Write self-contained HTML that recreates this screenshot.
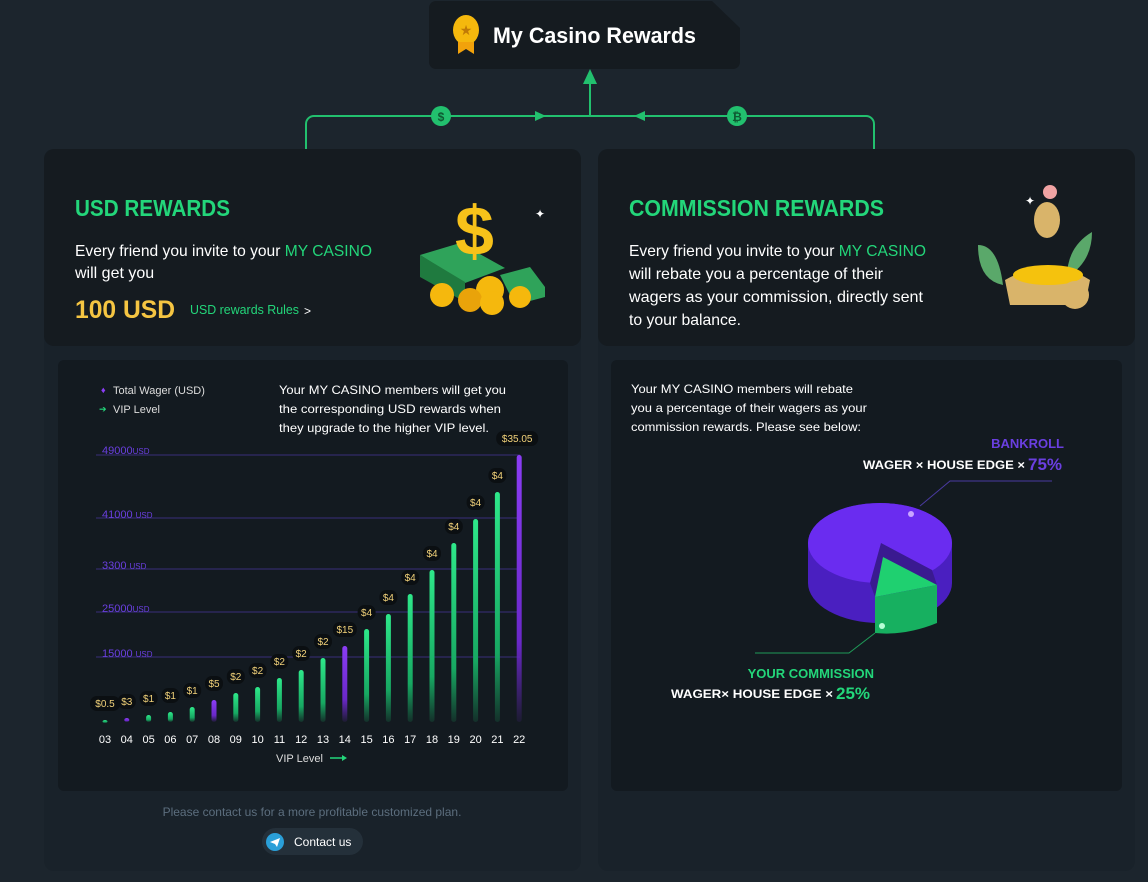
<!DOCTYPE html>
<html><head><meta charset="utf-8"><style>
html,body{margin:0;padding:0;background:#1c252d;}
svg{display:block;font-family:"Liberation Sans",sans-serif;}
</style></head><body>
<svg width="1148" height="882" viewBox="0 0 1148 882" xmlns="http://www.w3.org/2000/svg">
<defs>
<linearGradient id="g" x1="0" y1="0" x2="0" y2="1"><stop offset="0" stop-color="#2ee88a"/><stop offset="0.7" stop-color="#17a862"/><stop offset="1" stop-color="#17a862" stop-opacity="0.15"/></linearGradient>
<linearGradient id="p" x1="0" y1="0" x2="0" y2="1"><stop offset="0" stop-color="#8b3df5"/><stop offset="0.7" stop-color="#6a28c8"/><stop offset="1" stop-color="#6a28c8" stop-opacity="0.1"/></linearGradient>
</defs>
<rect width="1148" height="882" fill="#1c252d"/>
<!-- header -->
<path d="M436 1 H712 L740 28 V62 a7 7 0 0 1 -7 7 H436 a7 7 0 0 1 -7 -7 V8 a7 7 0 0 1 7 -7Z" fill="#151b20"/>
<ellipse cx="466" cy="30" rx="13" ry="15" fill="#f5b80d"/>
<path d="M458 42 v12 l8 -5 l8 5 v-12z" fill="#f2a20b"/>
<text x="466" y="35" text-anchor="middle" font-size="14" fill="#c07a06">★</text>
<text x="493" y="43" font-size="22" font-weight="bold" fill="#fff" textLength="203" lengthAdjust="spacingAndGlyphs">My Casino Rewards</text>
<!-- connectors -->
<g stroke="#22c06e" stroke-width="2" fill="none">
<path d="M306 149 V124 a8 8 0 0 1 8 -8 H866 a8 8 0 0 1 8 8 V149"/>
<path d="M590 116 V80"/>
</g>
<path d="M583 84 L590 69 L597 84Z" fill="#22c06e"/>
<path d="M535 111 L546 116 L535 121Z" fill="#22c06e"/>
<path d="M645 111 L634 116 L645 121Z" fill="#22c06e"/>
<circle cx="441" cy="116" r="10" fill="#22c06e"/><text x="441" y="121" text-anchor="middle" font-size="12" font-weight="bold" fill="#0e5a32">$</text>
<circle cx="737" cy="116" r="10" fill="#22c06e"/><text x="737" y="121" text-anchor="middle" font-size="12" font-weight="bold" fill="#0e5a32">₿</text>
<!-- panels -->
<rect x="44" y="149" width="537" height="722" rx="10" fill="#19222a"/>
<rect x="598" y="149" width="537" height="722" rx="10" fill="#19222a"/>
<rect x="44" y="149" width="537" height="197" rx="10" fill="#151b20"/>
<rect x="598" y="149" width="537" height="197" rx="10" fill="#151b20"/>
<rect x="58" y="360" width="510" height="431" rx="6" fill="#131a20"/>
<rect x="611" y="360" width="511" height="431" rx="6" fill="#131a20"/>
<!-- USD card -->
<text x="75" y="216" font-size="23" font-weight="bold" fill="#23d67a" textLength="155" lengthAdjust="spacingAndGlyphs">USD REWARDS</text>
<text x="75" y="256" font-size="16" fill="#fff" textLength="297" lengthAdjust="spacingAndGlyphs">Every friend you invite to your <tspan fill="#23d67a">MY CASINO</tspan></text>
<text x="75" y="278" font-size="16" fill="#fff">will get you</text>
<text x="75" y="318" font-size="25" font-weight="bold" fill="#f5c542" textLength="100" lengthAdjust="spacingAndGlyphs">100 USD</text>
<text x="190" y="314" font-size="13" fill="#23d67a" textLength="109" lengthAdjust="spacingAndGlyphs">USD rewards Rules</text>
<text x="304" y="315" font-size="12" fill="#fff">&gt;</text>
<!-- money illustration -->
<g>
<path d="M420 255 l40 -12 l45 25 l-40 15z" fill="#2fa35a"/><path d="M420 255 v22 l45 25 v-20z" fill="#1f7a3f"/>
<path d="M500 275 l30 -8 l15 20 v10 l-30 8z" fill="#2fa35a"/>
<text x="455" y="255" font-size="70" font-weight="bold" fill="#f7c21a">$</text>
<circle cx="442" cy="295" r="12" fill="#f5b80d"/><circle cx="490" cy="290" r="14" fill="#f5b80d"/><circle cx="520" cy="297" r="11" fill="#f5b80d"/><circle cx="470" cy="300" r="12" fill="#e9a30a"/><circle cx="492" cy="303" r="12" fill="#f5b80d"/>
<text x="535" y="218" font-size="12" fill="#fff">✦</text>
</g>
<!-- commission card -->
<text x="629" y="216" font-size="23" font-weight="bold" fill="#23d67a" textLength="255" lengthAdjust="spacingAndGlyphs">COMMISSION REWARDS</text>
<text x="629" y="256" font-size="16" fill="#fff" textLength="297" lengthAdjust="spacingAndGlyphs">Every friend you invite to your <tspan fill="#23d67a">MY CASINO</tspan></text>
<text x="629" y="279" font-size="16" fill="#fff" textLength="254" lengthAdjust="spacingAndGlyphs">will rebate you a percentage of their</text>
<text x="629" y="302" font-size="16" fill="#fff" textLength="294" lengthAdjust="spacingAndGlyphs">wagers as your commission, directly sent</text>
<text x="629" y="325" font-size="16" fill="#fff" textLength="112" lengthAdjust="spacingAndGlyphs">to your balance.</text>
<g>
<path d="M978 245 q20 0 25 40 q-25 -5 -25 -40z" fill="#5aa86a"/><path d="M1092 232 q-25 15 -25 45 q25 -15 25 -45z" fill="#5aa86a"/>
<ellipse cx="1047" cy="220" rx="13" ry="18" fill="#d9b46a"/><circle cx="1050" cy="192" r="7" fill="#f0a3a3"/>
<path d="M1005 280 q45 -25 85 0 l-5 25 h-75z" fill="#d9b46a"/><ellipse cx="1048" cy="275" rx="35" ry="10" fill="#f5c20d"/>
<ellipse cx="1075" cy="295" rx="14" ry="14" fill="#d9b46a"/>
<text x="1025" y="205" font-size="12" fill="#fff">✦</text>
</g>
<!-- chart -->
<text x="101" y="393" font-size="9" fill="#8b3df5">♦</text>
<text x="113" y="394" font-size="11" fill="#ddd">Total  Wager (USD)</text>
<text x="99" y="412" font-size="9" fill="#23d67a">➔</text>
<text x="113" y="413" font-size="11" fill="#ddd">VIP Level</text>
<text x="279" y="394" font-size="12" fill="#fff" textLength="227" lengthAdjust="spacingAndGlyphs">Your MY CASINO members will get you</text>
<text x="279" y="413" font-size="12" fill="#fff" textLength="222" lengthAdjust="spacingAndGlyphs">the corresponding USD rewards when</text>
<text x="279" y="432" font-size="12" fill="#fff" textLength="210" lengthAdjust="spacingAndGlyphs">they upgrade to the higher VIP level.</text>
<g stroke="#3a2f7a" stroke-width="1">
<line x1="96" y1="455" x2="520" y2="455"/><line x1="96" y1="518" x2="520" y2="518"/><line x1="96" y1="569" x2="520" y2="569"/><line x1="96" y1="612" x2="520" y2="612"/><line x1="96" y1="657" x2="520" y2="657"/>
</g>
<g font-size="11" fill="#6a3fe0">
<text x="102" y="454">49000<tspan font-size="8">USD</tspan></text>
<text x="102" y="518">41000 <tspan font-size="8">USD</tspan></text>
<text x="102" y="569">3300 <tspan font-size="8"> USD</tspan></text>
<text x="102" y="612">25000<tspan font-size="8">USD</tspan></text>
<text x="102" y="657">15000 <tspan font-size="8">USD</tspan></text>
</g>
<g id="bars"></g>
<g font-size="11" fill="#fff" text-anchor="middle" id="xl"></g>
<text x="276" y="762" font-size="11" fill="#ddd">VIP Level</text>
<path d="M330 758 h14" stroke="#23d67a" stroke-width="1.5"/><path d="M342 755 l5 3 l-5 3z" fill="#23d67a"/>
<!-- pie side -->
<text x="631" y="393" font-size="12" fill="#fff" textLength="222" lengthAdjust="spacingAndGlyphs">Your MY CASINO members will rebate</text>
<text x="631" y="412" font-size="12" fill="#fff" textLength="236" lengthAdjust="spacingAndGlyphs">you a percentage of their wagers as your</text>
<text x="631" y="431" font-size="12" fill="#fff" textLength="230" lengthAdjust="spacingAndGlyphs">commission rewards. Please see below:</text>
<text x="1064" y="448" font-size="13" font-weight="bold" fill="#6a3fe0" text-anchor="end">BANKROLL</text>
<text x="863" y="469" font-size="12" font-weight="bold" fill="#fff" textLength="162" lengthAdjust="spacingAndGlyphs">WAGER × HOUSE EDGE  ×</text>
<text x="1028" y="470" font-size="17" font-weight="bold" fill="#6a3fe0">75%</text>
<path d="M1052 481 H950 L920 506" stroke="#4a3aa0" fill="none"/>
<path d="M808 543 a72 40 0 0 1 144 0 v40 a72 40 0 0 1 -72 40 a72 40 0 0 1 -72 -40z" fill="#4a1fc0"/>
<path d="M808 543 a72 40 0 0 1 144 0 a72 40 0 0 1 -72 40 a72 40 0 0 1 -72 -40z" fill="#6a2cf0"/>
<path d="M881 543 L932 570 L937 585 L875 597 L870 583Z" fill="#3a1a90"/>
<path d="M883 557 L937 585 L875 597Z" fill="#1fd070"/>
<path d="M875 597 L937 585 V623 Q905 636 875 633Z" fill="#17b060"/>
<circle cx="911" cy="514" r="3" fill="#c9a6ff"/><circle cx="882" cy="626" r="3" fill="#b6ffd6"/>
<path d="M755 653 H849 L875 633" stroke="#1f9a58" fill="none"/>
<text x="874" y="678" font-size="13" font-weight="bold" fill="#23d67a" text-anchor="end">YOUR COMMISSION</text>
<text x="671" y="698" font-size="12" font-weight="bold" fill="#fff" textLength="162" lengthAdjust="spacingAndGlyphs">WAGER× HOUSE EDGE  ×</text>
<text x="836" y="699" font-size="17" font-weight="bold" fill="#23d67a">25%</text>
<!-- footer -->
<text x="312" y="816" font-size="12" fill="#5c6e7e" text-anchor="middle">Please contact us for a more profitable customized plan.</text>
<rect x="262" y="828" width="101" height="27" rx="13.5" fill="#24303a"/>
<circle cx="275" cy="842" r="9" fill="#2a9fd8"/><path d="M270 842 l10 -4 l-3 9 l-2 -3z" fill="#fff"/>
<text x="294" y="846" font-size="12" fill="#fff">Contact us</text>
</svg>
<script>
var tops=[720,718,715,712,707,700,693,687,678,670,658,646,629,614,594,570,543,519,492,455];
var labs=["$0.5","$3","$1","$1","$1","$5","$2","$2","$2","$2","$2","$15","$4","$4","$4","$4","$4","$4","$4","$35.05"];
var purple=[1,5,11,19];
var ns="http://www.w3.org/2000/svg",b=document.getElementById("bars"),xl=document.getElementById("xl");
for(var i=0;i<20;i++){var x=105+i*21.8,isP=purple.indexOf(i)>=0;
var r=document.createElementNS(ns,"rect");r.setAttribute("x",x-2.5);r.setAttribute("y",tops[i]);r.setAttribute("width",5);r.setAttribute("height",Math.max(722-tops[i],3));r.setAttribute("rx",2.5);r.setAttribute("fill",isP?"url(#p)":"url(#g)");b.appendChild(r);
var w=labs[i].length*6+6,lx=(i==19?x-2:x);
var bg=document.createElementNS(ns,"rect");bg.setAttribute("x",lx-w/2);bg.setAttribute("y",tops[i]-24);bg.setAttribute("width",w);bg.setAttribute("height",15);bg.setAttribute("rx",7);bg.setAttribute("fill","#0b0f12");b.appendChild(bg);
var t=document.createElementNS(ns,"text");t.setAttribute("x",lx);t.setAttribute("y",tops[i]-13);t.setAttribute("text-anchor","middle");t.setAttribute("font-size","10");t.setAttribute("fill","#f2d27a");t.textContent=labs[i];b.appendChild(t);
var n=document.createElementNS(ns,"text");n.setAttribute("x",x);n.setAttribute("y",743);n.textContent=(i+3<10?"0":"")+(i+3);xl.appendChild(n);}
</script>
</body></html>
